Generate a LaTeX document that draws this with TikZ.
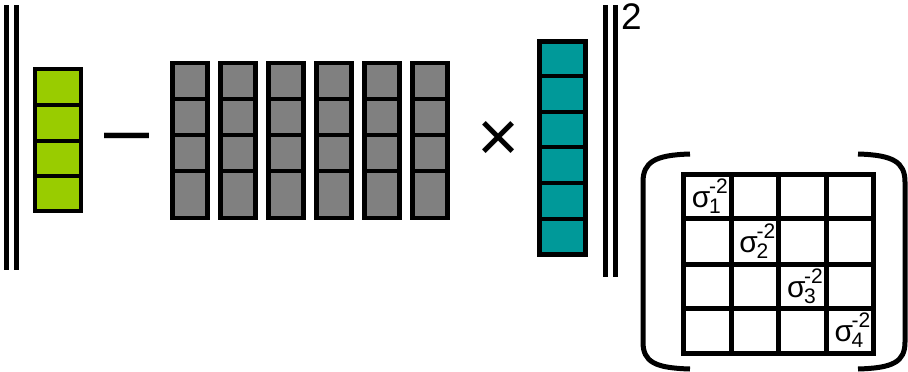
\documentclass[tikz,border=0pt]{standalone}
\usepackage{fontspec}
\setmainfont{Liberation Sans}

\definecolor{vecgreen}{RGB}{153,204,0}
\definecolor{vecteal}{RGB}{0,153,153}
\definecolor{matgray}{RGB}{128,128,128}

\tikzset{
  cellbox/.style={draw=black, line width=4.5pt},
  normbar/.style={draw=black, line width=5pt},
  bracketline/.style={draw=black, line width=5pt},
  gridline/.style={draw=black, line width=5pt}
}

\newcommand{\scriptsz}{\fontsize{21}{21}\selectfont}
\newcommand{\sigmaentry}[1]{{\fontsize{30}{30}\selectfont σ}\kern-1.5pt\rlap{\raisebox{14pt}{\scriptsz -2}}\makebox[14pt][l]{\raisebox{-6pt}{\scriptsz #1}}}

\begin{document}
\begin{tikzpicture}[x=1pt,y=-1pt]

    \useasboundingbox (0,0) rectangle (908,372);

    % Draw the left norm bars
    \draw[normbar] (6.5,5) -- (6.5,270);
    \draw[normbar] (16,5) -- (16,270);

    % Draw the green vector
    \foreach \ya/\yb in {69/105,105/141,141/176,176/211}
        \draw[cellbox, fill=vecgreen] (35,\ya) rectangle (81,\yb);

    % Minus sign
    \node[inner sep=0] (minus) at (127.5,145) {\fontsize{81}{81}\selectfont –};

    % Draw the gray matrix, six columns
    \foreach \c in {0,...,5}
        \foreach \ya/\yb in {63/99,99/135,135/171,171/218}
            \draw[cellbox, fill=matgray] ({172.5+48*\c},\ya) rectangle ({207.5+48*\c},\yb);

    % Times sign
    \node[inner sep=0] (times) at (499,141) {\fontsize{72}{72}\selectfont ×};

    % Draw the teal vector
    \foreach \ya/\yb in {41.5/76,76/112,112/147,147/183,183/219,219/254.5}
        \draw[cellbox, fill=vecteal] (539.5,\ya) rectangle (585.5,\yb);

    % Draw the right norm bars and the square
    \draw[normbar] (605.5,5) -- (605.5,277);
    \draw[normbar] (615.5,5) -- (615.5,277);
    \node[inner sep=0, anchor=north west] (square) at (621,3) {\fontsize{37}{37}\selectfont 2};

    % Brackets round the weight matrix
    \draw[bracketline] (690,154) .. controls (655,155) and (643,162) .. (643,182)
        -- (643,342) .. controls (643,362) and (655,368) .. (690,369);
    \draw[bracketline] (858,154) .. controls (893,155) and (905,162) .. (905,182)
        -- (905,342) .. controls (905,362) and (893,368) .. (858,369);

    % Draw the 4x4 grid
    \draw[gridline] (683,174) rectangle (873,353);
    \foreach \x in {731,778,826}
        \draw[gridline] (\x,174) -- (\x,353);
    \foreach \y in {218,264,308}
        \draw[gridline] (683,\y) -- (873,\y);

    % Diagonal entries
    \foreach \i/\x/\y in {1/707.5/196,2/755/241,3/802.5/286,4/850/330.5}
        \node[inner sep=0] (sig\i) at (\x,\y) {\sigmaentry{\i}};

\end{tikzpicture}
\end{document}
